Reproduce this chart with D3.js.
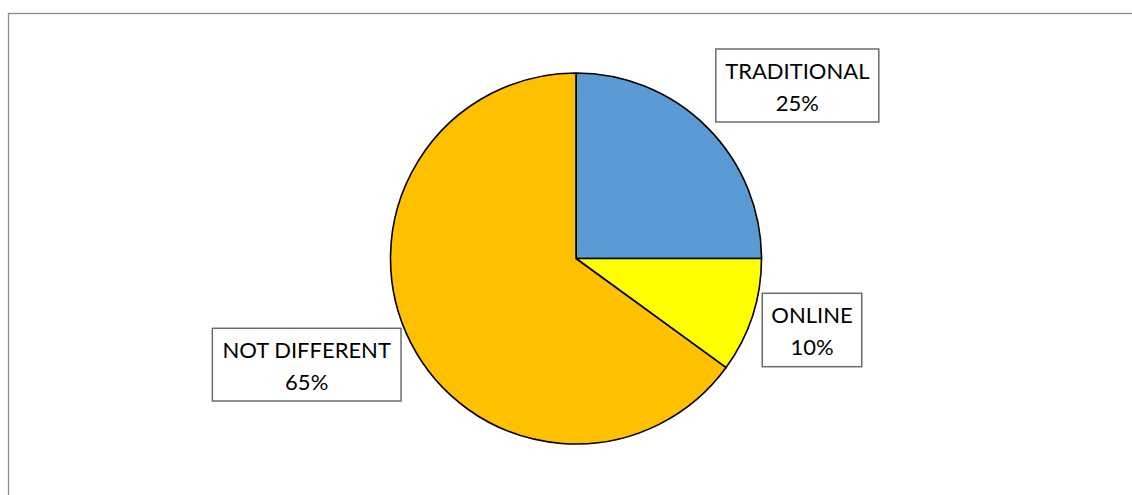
<!DOCTYPE html>
<html>
<head>
<meta charset="utf-8">
<script src="https://cdn.jsdelivr.net/npm/d3@7"></script>
<style>
  html, body { margin: 0; padding: 0; background: #fff; }
  svg { display: block; }
  text { font-family: Lato, "Open Sans", sans-serif; fill: #000; }
</style>
</head>
<body>
<svg id="chart" width="1132" height="495"></svg>
<script>
// Survey shares
const categories = ["TRADITIONAL", "ONLINE", "NOT DIFFERENT"];
const values = [25, 10, 65];
const percentLabels = ["25%", "10%", "65%"];
const colors = ["#5B9BD5", "#FFFF00", "#FFC000"];

// Label box layout (centre x, top y, width, height)
const labelBoxes = [
  { cx: 797.3, top: 49, w: 163, h: 73 },
  { cx: 812, top: 293.3, w: 99.5, h: 73.4 },
  { cx: 306.7, top: 328.3, w: 188.7, h: 72.7 }
];

const W = 1132, H = 495;
const cx = 576, cy = 258.5, radius = 185.5;

const svg = d3.select("#chart");

// Outer chart frame
svg.append("rect")
  .attr("x", 8.5).attr("y", 13.5)
  .attr("width", W + 10).attr("height", H + 10)
  .attr("fill", "none")
  .attr("stroke", "#8c8c8c")
  .attr("stroke-width", 1.3);

const data = categories.map((c, i) => ({ name: c, value: values[i], pct: percentLabels[i], color: colors[i], box: labelBoxes[i] }));

const pie = d3.pie().sort(null).value(d => d.value);
const arc = d3.arc().innerRadius(0).outerRadius(radius);

const g = svg.append("g").attr("transform", `translate(${cx},${cy})`);
g.selectAll("path")
  .data(pie(data))
  .join("path")
  .attr("d", arc)
  .attr("fill", d => d.data.color)
  .attr("stroke", "#000")
  .attr("stroke-width", 1.6)
  .attr("stroke-linejoin", "round");

// Data labels in boxes
const lbl = svg.selectAll("g.lbl")
  .data(data)
  .join("g")
  .attr("class", "lbl");

lbl.append("rect")
  .attr("x", d => d.box.cx - d.box.w / 2)
  .attr("y", d => d.box.top)
  .attr("width", d => d.box.w)
  .attr("height", d => d.box.h)
  .attr("fill", "#fff")
  .attr("stroke", "#6b6b6b")
  .attr("stroke-width", 1.5);

lbl.append("text")
  .attr("x", d => d.box.cx)
  .attr("y", d => d.box.top + 29.5)
  .attr("text-anchor", "middle")
  .attr("font-size", 22)
  .text(d => d.name);

lbl.append("text")
  .attr("x", d => d.box.cx)
  .attr("y", d => d.box.top + 62)
  .attr("text-anchor", "middle")
  .attr("font-size", 22)
  .text(d => d.pct);
</script>
</body>
</html>
